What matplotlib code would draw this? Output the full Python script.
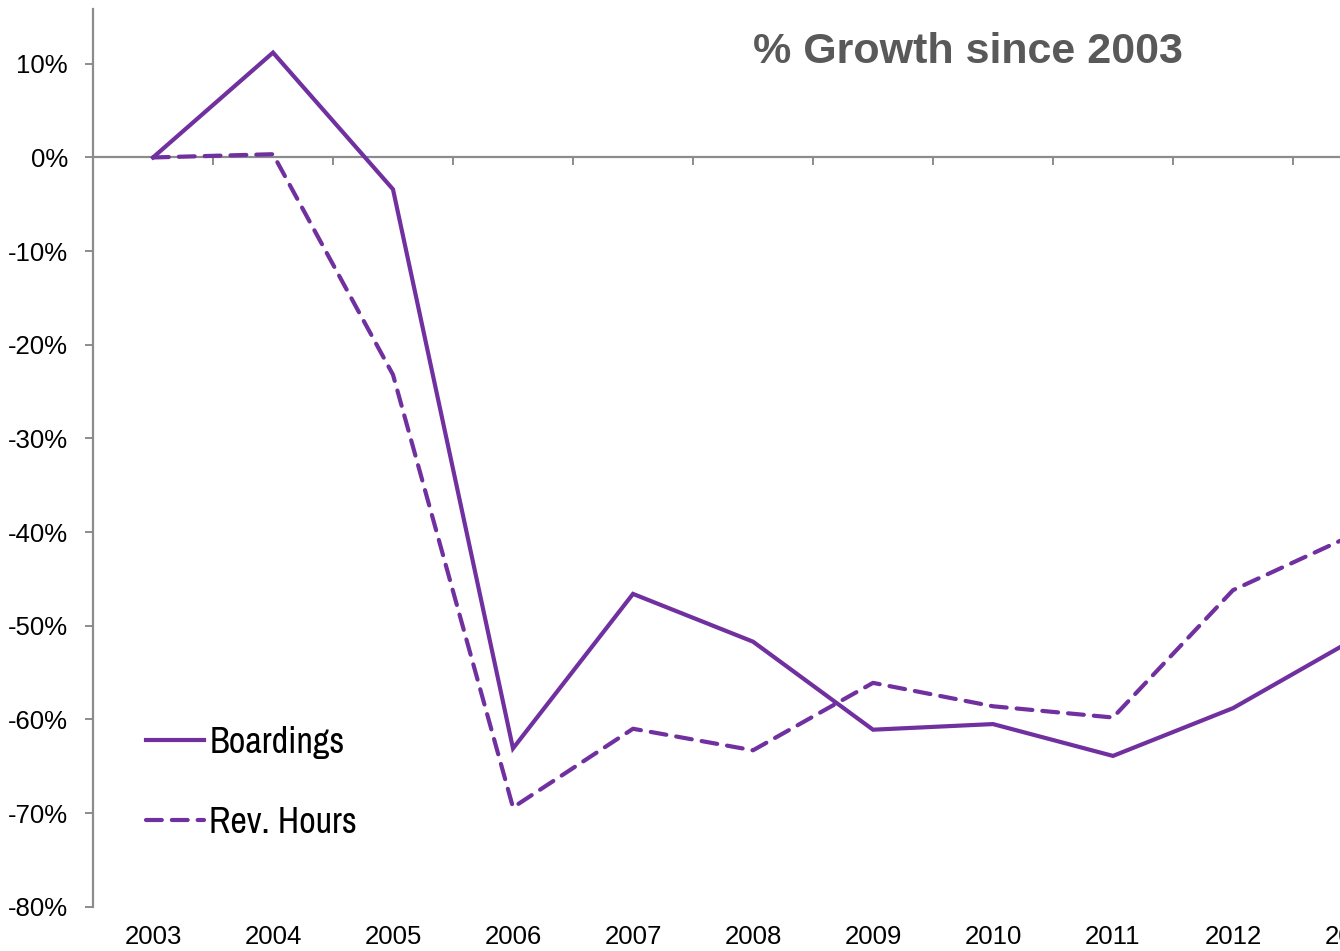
import matplotlib
matplotlib.use("Agg")
import matplotlib.pyplot as plt
from matplotlib import font_manager
from matplotlib.ticker import FuncFormatter, FixedLocator

# values (percent growth since 2003)
years = [2003, 2004, 2005, 2006, 2007, 2008, 2009, 2010, 2011, 2012, 2013]
boardings = [0.0, 11.2, -3.4, -63.1, -46.6, -51.7, -61.1, -60.5, -63.9, -58.8, -51.5]
rev_hours = [0.0, 0.35, -23.2, -69.4, -61.0, -63.3, -56.1, -58.6, -59.8, -46.2, -40.3]
y_ticks = [10, 0, -10, -20, -30, -40, -50, -60, -70, -80]
title = "% Growth since 2003"

purple = "#7030A0"
axis_grey = "#8c8c8c"

plt.rcParams["font.family"] = ["Liberation Sans", "DejaVu Sans"]

# legend uses a narrow upright face in the reference; pick one if installed
narrow = None
for f in font_manager.fontManager.ttflist:
    if f.style != "normal" or f.weight not in (400, "normal", "regular"):
        continue
    if "Narrow" in f.name or "Condensed" in f.name or f.stretch in ("condensed", "semi-condensed"):
        narrow = font_manager.FontProperties(fname=f.fname, size=26)
        if "Narrow" in f.name:
            break
if narrow is None:
    narrow = font_manager.FontProperties(family="Liberation Sans", size=24)

fig = plt.figure(figsize=(13.4, 9.51), dpi=100)
W, H = 1340, 951
# axes runs past the right edge of the picture, like the reference
ax = fig.add_axes([93 / W, 1 - 906.7 / H, (1413 - 93) / W, (906.7 - 9.5) / H])

ax.plot(years, boardings, color=purple, lw=3, solid_joinstyle="miter",
        label="Boardings")
ax.plot(years, rev_hours, color=purple, lw=3, linestyle=(0, (3.8, 2.4)),
        dash_capstyle="round", label="Rev. Hours")

ax.set_xlim(years[0] - 0.5, years[-1] + 0.5)
ax.set_ylim(-80, 15.8)

# spines
for s in ["top", "right"]:
    ax.spines[s].set_visible(False)
ax.spines["left"].set_color(axis_grey)
ax.spines["left"].set_linewidth(1.6)
ax.spines["bottom"].set_position(("data", 0))
ax.spines["bottom"].set_color(axis_grey)
ax.spines["bottom"].set_linewidth(1.6)
ax.spines["bottom"].set_zorder(1)

# y axis
ax.yaxis.set_major_locator(FixedLocator(y_ticks))
ax.yaxis.set_major_formatter(FuncFormatter(lambda v, p: f"{v:.0f}%"))
ax.tick_params(axis="y", direction="out", length=6, width=1.4, color=axis_grey,
               labelsize=18.5, pad=12, labelcolor="black")

# x axis at zero: tick marks between categories, no labels
ax.xaxis.set_major_locator(FixedLocator([y - 0.5 for y in years] + [years[-1] + 0.5]))
ax.xaxis.set_major_formatter(FuncFormatter(lambda v, p: ""))
ax.tick_params(axis="x", direction="out", length=6, width=1.4, color=axis_grey)

# year labels at the bottom of the plot
sec = ax.secondary_xaxis(0.0)
sec.spines["bottom"].set_visible(False)
sec.set_xticks(years)
sec.set_xticklabels([str(y) for y in years])
sec.tick_params(axis="x", length=0, labelsize=18.5, pad=13, labelcolor="black")

ax.text(968 / W, 1 - 52 / H, title, transform=fig.transFigure, ha="center",
        va="center", fontsize=31, fontweight="bold", color="#595959")

leg = ax.legend(loc="upper left", bbox_to_anchor=(146 / W, 1 - 726 / H),
                bbox_transform=fig.transFigure, frameon=False, borderpad=0,
                borderaxespad=0, handlelength=1.6, handletextpad=0.15,
                labelspacing=1.3, prop=narrow)

fig.savefig("out.png", dpi=100)
